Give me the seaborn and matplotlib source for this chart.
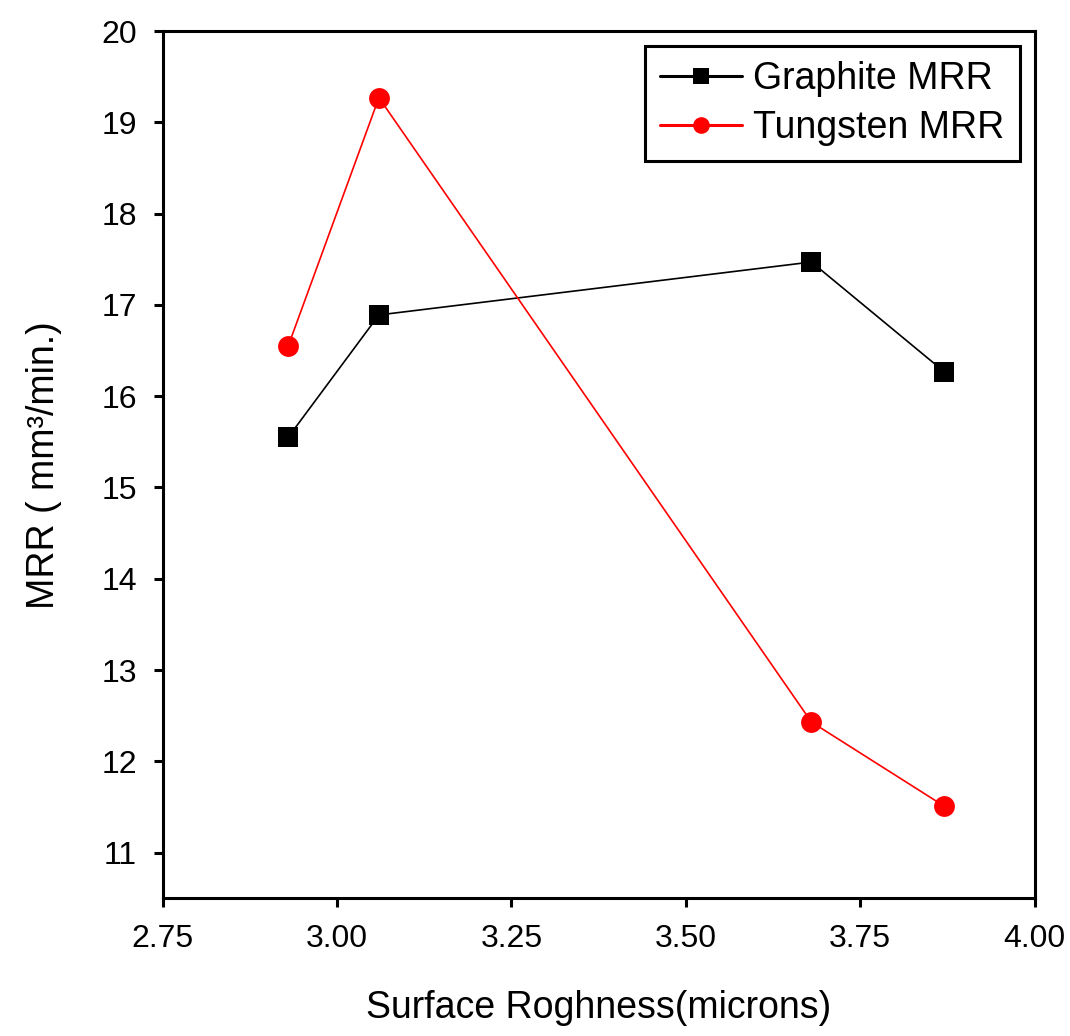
import seaborn as sns
import matplotlib.pyplot as plt
import pandas as pd

roughness = [2.93, 3.06, 3.68, 3.87]
graphite_mrr = [15.55, 16.89, 17.47, 16.27]
tungsten_mrr = [16.55, 19.27, 12.43, 11.51]
series_names = ["Graphite MRR", "Tungsten MRR"]

df = pd.DataFrame({
    "roughness": roughness * 2,
    "mrr": graphite_mrr + tungsten_mrr,
    "series": [series_names[0]] * len(roughness) + [series_names[1]] * len(roughness),
})

sns.set_style("white")
plt.rcParams['font.family'] = ['Liberation Sans', 'DejaVu Sans']
plt.rcParams['text.color'] = 'black'
plt.rcParams['axes.labelcolor'] = 'black'

fig = plt.figure(figsize=(10.7, 10.36), dpi=100)
ax = fig.add_axes([0.152, 0.133, 0.815, 0.837])

sns.lineplot(data=df, x="roughness", y="mrr", hue="series", style="series",
             palette={series_names[0]: "black", series_names[1]: "red"},
             markers={series_names[0]: "s", series_names[1]: "o"},
             dashes=False, markersize=15, markeredgewidth=0, linewidth=1.2,
             sort=False, ax=ax)

ax.set_xlim(2.75, 4.00)
ax.set_ylim(10.5, 20)
ax.set_xticks([2.75, 3.00, 3.25, 3.50, 3.75, 4.00])
ax.set_xticklabels(["2.75", "3.00", "3.25", "3.50", "3.75", "4.00"])
ax.set_yticks(range(11, 21))

for side in ax.spines:
    ax.spines[side].set_color("black")
    ax.spines[side].set_linewidth(2.2)

ax.tick_params(axis="both", which="major", direction="out", length=6.5, width=2.2,
               labelsize=23, color="black", labelcolor="black", pad=12,
               bottom=True, left=True, top=False, right=False)

ax.set_xlabel("Surface Roghness(microns)", fontsize=27, labelpad=26)
ax.set_ylabel("MRR ( mm³/min.)", fontsize=27, labelpad=28)

leg = ax.legend(loc="upper right", fontsize=27, frameon=True, fancybox=False,
                edgecolor="black", framealpha=1, borderpad=0.4, handlelength=2.2,
                handletextpad=0.3, labelspacing=0.35, borderaxespad=0.4)
leg.get_frame().set_linewidth(2.2)
for h in leg.legend_handles:
    h.set_markersize(12)
    h.set_linewidth(2.2)

fig.savefig("out.png", dpi=100)
